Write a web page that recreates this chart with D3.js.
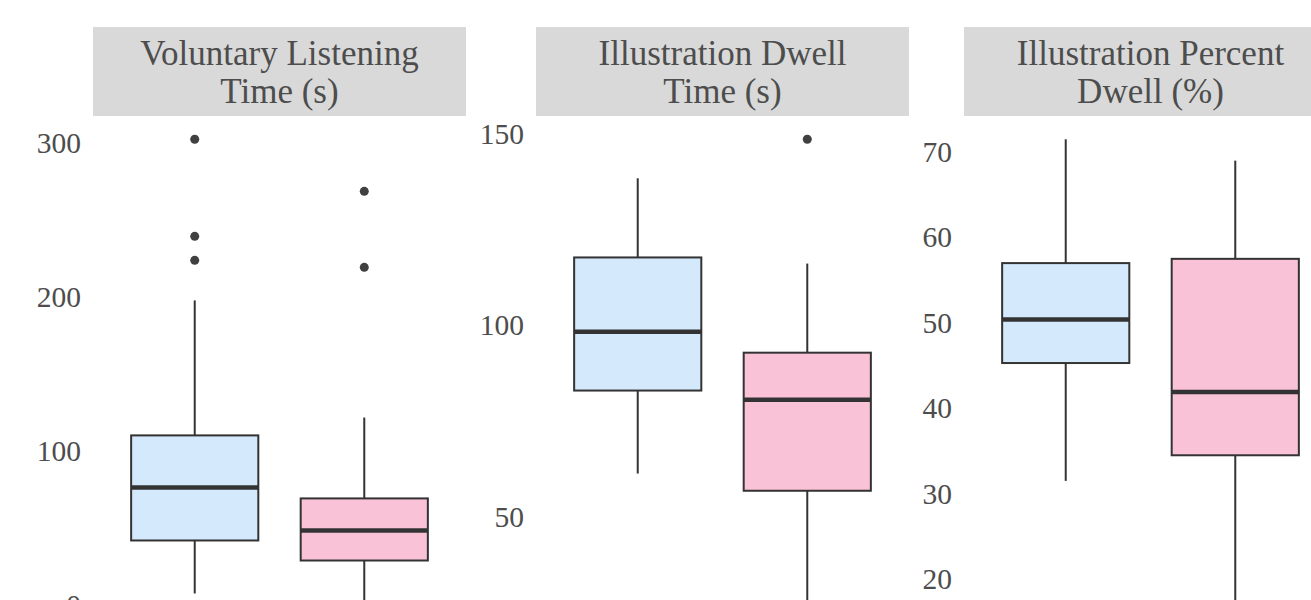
<!DOCTYPE html>
<html>
<head>
<meta charset="utf-8">
<script src="https://cdn.jsdelivr.net/npm/d3@7"></script>
<style>
  html, body { margin: 0; padding: 0; background: #ffffff; overflow: hidden; }
  svg { display: block; }
</style>
</head>
<body>
<svg id="chart" width="1311" height="600"></svg>
<script>
// ---- Data ----
const facetTitles = [
  ["Voluntary Listening", "Time (s)"],
  ["Illustration Dwell", "Time (s)"],
  ["Illustration Percent", "Dwell (%)"]
];
const groups = ["Group A", "Group B"];
const groupColors = ["#d4e9fc", "#fac2d6"];

// per facet: [lowerWhisker, q1, median, q3, upperWhisker] for each group
const listeningStats = [[7.8, 42.2, 76.6, 110.4, 198], [0.5, 29.2, 48.7, 69.5, 122]];
const listeningOutliers = [[302.6, 239.6, 224], [268.8, 219.5]];
const listeningTicks = [0, 100, 200, 300];

const dwellStats = [[61.3, 83, 98.4, 117.8, 138.5], [27, 56.8, 80.6, 92.9, 116.2]];
const dwellOutliers = [[], [148.7]];
const dwellTicks = [50, 100, 150];

const percentStats = [[31.5, 45.3, 50.4, 57.0, 71.5], [17, 34.5, 41.9, 57.5, 69.0]];
const percentOutliers = [[], []];
const percentTicks = [20, 30, 40, 50, 60, 70];

const facets = [
  { title: facetTitles[0], stats: listeningStats, outliers: listeningOutliers, ticks: listeningTicks },
  { title: facetTitles[1], stats: dwellStats, outliers: dwellOutliers, ticks: dwellTicks },
  { title: facetTitles[2], stats: percentStats, outliers: percentOutliers, ticks: percentTicks }
];

// ---- Layout ----
const panelLefts = [93, 536, 964];
const panelW = 373;
const stripTop = 27, stripH = 89;
const panelTop = stripTop + stripH;
const panelH = 512;
const textColor = "#4d4d4d";
const fontFamily = "'Liberation Serif', 'Times New Roman', 'DejaVu Serif', serif";

const svg = d3.select("#chart");

facets.forEach((f, i) => {
  const left = panelLefts[i];
  const g = svg.append("g").attr("transform", `translate(${left},0)`);

  // strip
  g.append("rect")
    .attr("x", 0).attr("y", stripTop)
    .attr("width", panelW).attr("height", stripH)
    .attr("fill", "#d9d9d9");
  const st = g.append("text")
    .attr("text-anchor", "middle")
    .attr("fill", textColor)
    .style("font-family", fontFamily)
    .style("font-size", "35px");
  f.title.forEach((line, k) => {
    st.append("tspan").attr("x", panelW / 2).attr("y", 65 + k * 37.7).text(line);
  });

  // scales
  const allVals = f.stats.flat().concat(f.outliers.flat());
  const mn = d3.min(allVals), mx = d3.max(allVals);
  const pad = (mx - mn) * 0.05;
  const y = d3.scaleLinear().domain([mn - pad, mx + pad]).range([panelTop + panelH, panelTop]);
  const x = d3.scalePoint().domain(groups).range([0, panelW]).padding(0.6);
  const bw = x.step() * 0.75;

  // y axis (labels only)
  const axis = d3.axisLeft(y).tickValues(f.ticks).tickSize(0).tickPadding(12).tickFormat(d3.format("d"));
  const ag = g.append("g").call(axis);
  ag.select(".domain").remove();
  ag.selectAll("text")
    .attr("fill", textColor)
    .style("font-family", fontFamily)
    .style("font-size", "29.5px");

  // boxes
  groups.forEach((grp, j) => {
    const [lo, q1, med, q3, hi] = f.stats[j];
    const cx = x(grp);
    const bg = g.append("g");
    bg.append("line")
      .attr("x1", cx).attr("x2", cx).attr("y1", y(q3)).attr("y2", y(hi))
      .attr("stroke", "#333333").attr("stroke-width", 2);
    bg.append("line")
      .attr("x1", cx).attr("x2", cx).attr("y1", y(q1)).attr("y2", y(lo))
      .attr("stroke", "#333333").attr("stroke-width", 2);
    bg.append("rect")
      .attr("x", cx - bw / 2).attr("y", y(q3))
      .attr("width", bw).attr("height", y(q1) - y(q3))
      .attr("fill", groupColors[j]).attr("stroke", "#333333").attr("stroke-width", 2);
    bg.append("line")
      .attr("x1", cx - bw / 2).attr("x2", cx + bw / 2).attr("y1", y(med)).attr("y2", y(med))
      .attr("stroke", "#333333").attr("stroke-width", 4.5);
    bg.selectAll("circle").data(f.outliers[j]).enter().append("circle")
      .attr("cx", cx).attr("cy", d => y(d)).attr("r", 4.5)
      .attr("fill", "#404040");
  });
});
</script>
</body>
</html>
